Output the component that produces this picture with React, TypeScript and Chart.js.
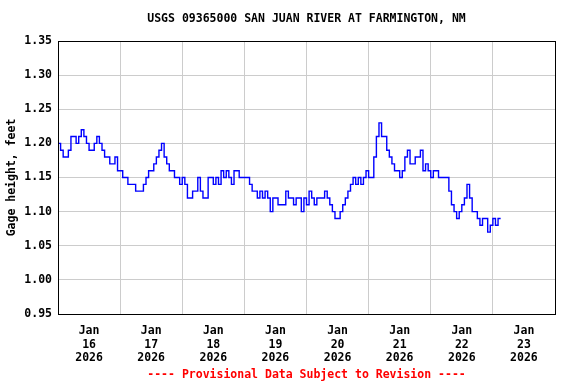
import { useEffect, useRef } from "react";
import { Chart, registerables } from "chart.js";

Chart.register(...registerables);

const TITLE = "USGS 09365000 SAN JUAN RIVER AT FARMINGTON, NM";
const Y_LABEL = "Gage height, feet";
const FOOTER = "---- Provisional Data Subject to Revision ----";
const MONTH = "Jan";
const YEAR = "2026";
const DAY_LABELS = ["16", "17", "18", "19", "20", "21", "22", "23"];
// hours since Jan 16 00:00 at which each day label is centred (noon)
const DAY_TICK_HOURS = [12, 36, 60, 84, 108, 132, 156, 180];
const Y_TICKS = [0.95, 1.0, 1.05, 1.1, 1.15, 1.2, 1.25, 1.3, 1.35];

// reading times, hours since Jan 16 2026 00:00
const HOURS = [
  0, 1, 2, 3, 4, 5, 6, 7, 8, 9, 10, 11, 12, 13, 14, 15, 16, 17, 18, 19, 20, 21, 22, 23,
  24, 25, 26, 27, 28, 29, 30, 31, 32, 33, 34, 35, 36, 37, 38, 39, 40, 41, 42, 43, 44, 45, 46, 47,
  48, 49, 50, 51, 52, 53, 54, 55, 56, 57, 58, 59, 60, 61, 62, 63, 64, 65, 66, 67, 68, 69, 70, 71,
  72, 73, 74, 75, 76, 77, 78, 79, 80, 81, 82, 83, 84, 85, 86, 87, 88, 89, 90, 91, 92, 93, 94, 95,
  96, 97, 98, 99, 100, 101, 102, 103, 104, 105, 106, 107, 108, 109, 110, 111, 112, 113, 114, 115, 116, 117, 118, 119,
  120, 121, 122, 123, 124, 125, 126, 127, 128, 129, 130, 131, 132, 133, 134, 135, 136, 137, 138, 139, 140, 141, 142, 143,
  144, 145, 146, 147, 148, 149, 150, 151, 152, 153, 154, 155, 156, 157, 158, 159, 160, 161, 162, 163, 164, 165, 166, 167,
  168, 169, 170, 171,
];

// gage height, feet
const GAGE = [
  1.2, 1.19, 1.18, 1.18, 1.19, 1.21, 1.21, 1.2, 1.21, 1.22, 1.21, 1.2, 1.19, 1.19, 1.2, 1.21, 1.2, 1.19, 1.18, 1.18, 1.17, 1.17, 1.18, 1.16,
  1.16, 1.15, 1.15, 1.14, 1.14, 1.14, 1.13, 1.13, 1.13, 1.14, 1.15, 1.16, 1.16, 1.17, 1.18, 1.19, 1.2, 1.18, 1.17, 1.16, 1.16, 1.15, 1.15, 1.14,
  1.15, 1.14, 1.12, 1.12, 1.13, 1.13, 1.15, 1.13, 1.12, 1.12, 1.15, 1.15, 1.14, 1.15, 1.14, 1.16, 1.15, 1.16, 1.15, 1.14, 1.16, 1.16, 1.15, 1.15,
  1.15, 1.15, 1.14, 1.13, 1.13, 1.12, 1.13, 1.12, 1.13, 1.12, 1.1, 1.12, 1.12, 1.11, 1.11, 1.11, 1.13, 1.12, 1.12, 1.11, 1.12, 1.12, 1.1, 1.12,
  1.11, 1.13, 1.12, 1.11, 1.12, 1.12, 1.12, 1.13, 1.12, 1.11, 1.1, 1.09, 1.09, 1.1, 1.11, 1.12, 1.13, 1.14, 1.15, 1.14, 1.15, 1.14, 1.15, 1.16,
  1.15, 1.15, 1.18, 1.21, 1.23, 1.21, 1.21, 1.19, 1.18, 1.17, 1.16, 1.16, 1.15, 1.16, 1.18, 1.19, 1.17, 1.17, 1.18, 1.18, 1.19, 1.16, 1.17, 1.16,
  1.15, 1.16, 1.16, 1.15, 1.15, 1.15, 1.15, 1.13, 1.11, 1.1, 1.09, 1.1, 1.11, 1.12, 1.14, 1.12, 1.1, 1.1, 1.09, 1.08, 1.09, 1.09, 1.07, 1.08,
  1.09, 1.08, 1.09, 1.09,
];

const FONT_FAMILY = "'DejaVu Sans Mono', monospace";
const FONT = { family: FONT_FAMILY, size: 11.5, weight: "bold" as const, lineHeight: 1.2 };

const framePlugin = {
  id: "frameAndText",
  afterDraw(chart: any) {
    const { ctx, chartArea } = chart;
    const { left, right, top, bottom } = chartArea;
    ctx.save();
    ctx.strokeStyle = "#000";
    ctx.lineWidth = 1;
    ctx.strokeRect(Math.round(left) + 0.5, Math.round(top) + 0.5, Math.round(right - left), Math.round(bottom - top));
    ctx.font = `bold 11.5px ${FONT_FAMILY}`;
    ctx.textAlign = "center";
    ctx.textBaseline = "middle";
    const cx = (left + right) / 2;
    ctx.fillStyle = "#000";
    ctx.fillText(TITLE, cx, 19);
    ctx.fillStyle = "#ff0000";
    ctx.fillText(FOOTER, cx, 375);
    ctx.restore();
  },
};

export default function App() {
  const ref = useRef<HTMLCanvasElement | null>(null);

  useEffect(() => {
    if (!ref.current) return;
    const chart = new Chart(ref.current, {
      type: "line",
      data: {
        labels: HOURS,
        datasets: [
          {
            data: GAGE,
            borderColor: "#0000ff",
            borderWidth: 1.4,
            pointRadius: 0,
            stepped: true,
            fill: false,
          },
        ],
      },
      options: {
        animation: false,
        responsive: false,
        maintainAspectRatio: false,
        layout: { padding: { left: 0, right: 21, top: 41, bottom: 0 } },
        plugins: {
          legend: { display: false },
          tooltip: { enabled: false },
          title: { display: false },
        },
        scales: {
          x: {
            type: "linear",
            min: 0,
            max: 192,
            afterBuildTicks: (s: any) => {
              s.ticks = DAY_TICK_HOURS.map((v) => ({ value: v }));
            },
            afterFit: (s: any) => {
              s.height = 70;
            },
            ticks: {
              autoSkip: false,
              maxRotation: 0,
              color: "#000",
              font: FONT,
              padding: 10,
              callback: (_v: any, i: number) => [MONTH, DAY_LABELS[i], YEAR],
            },
            grid: { offset: true, color: "#cccccc", lineWidth: 1, drawTicks: false, tickLength: 0 },
            border: { display: false },
          },
          y: {
            type: "linear",
            min: 0.95,
            max: 1.35,
            afterBuildTicks: (s: any) => {
              s.ticks = Y_TICKS.map((v) => ({ value: v }));
            },
            afterFit: (s: any) => {
              s.width = 58;
            },
            ticks: {
              color: "#000",
              font: FONT,
              padding: 6,
              callback: (v: any) => Number(v).toFixed(2),
            },
            grid: { color: "#cccccc", lineWidth: 1, drawTicks: false, tickLength: 0 },
            border: { display: false },
            title: {
              display: true,
              text: Y_LABEL,
              color: "#000",
              font: FONT,
              padding: { top: 5, bottom: 0 },
            },
          },
        },
      },
      plugins: [framePlugin],
    });
    return () => chart.destroy();
  }, []);

  return (
    <div style={{ position: "fixed", left: 0, top: 0, width: 576, height: 384, background: "#fff" }}>
      <canvas ref={ref} width={576} height={384} style={{ width: 576, height: 384, display: "block" }} />
    </div>
  );
}
